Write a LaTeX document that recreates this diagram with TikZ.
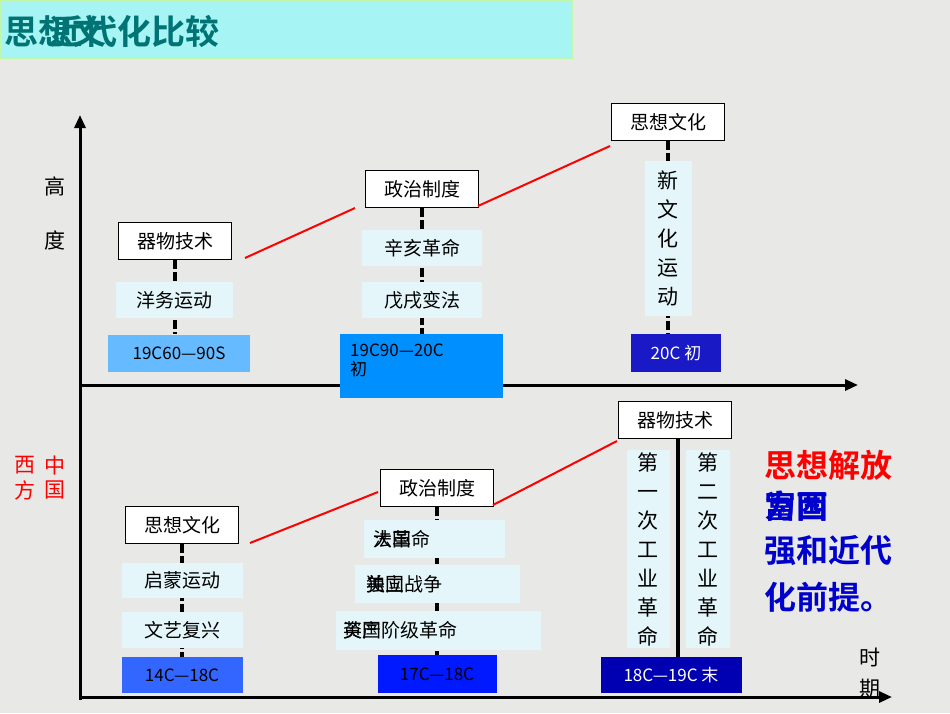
\documentclass[tikz,border=0pt]{standalone}
\usepackage{fontspec}
\setmainfont{Noto Sans CJK SC}
\newfontfamily\cjkb{Noto Sans CJK SC Bold}
\usetikzlibrary{arrows.meta}
\definecolor{bg}{HTML}{E8E8E6}
\definecolor{lab}{HTML}{E4F6FA}
\definecolor{ttl}{HTML}{A6F4F4}
\definecolor{teal}{HTML}{007474}
\tikzset{
 cat/.style={draw=black,line width=1.6pt,fill=white,minimum width=113pt,minimum height=37pt,font=\fontsize{19}{19}\selectfont,inner sep=0pt},
 lbl/.style={fill=lab,font=\fontsize{19}{19}\selectfont,inner sep=0pt},
 per/.style={font=\fontsize{17}{19}\selectfont,inner sep=0pt},
 red/.style={draw=red,line width=2pt},
 stem/.style={draw=black,line width=3.5pt,dash pattern=on 9pt off 3pt},
 axis/.style={draw=black,line width=3pt,-{Triangle[length=13pt,width=11pt]}},
 big/.style={font=\cjkb\fontsize{32}{34}\selectfont,inner sep=0pt,anchor=west},
 ov/.style={font=\fontsize{19}{19}\selectfont,anchor=west,inner sep=0pt}
}
\begin{document}
\begin{tikzpicture}[x=1pt,y=-1pt]
\fill[bg] (0,0) rectangle (950,713);
\useasboundingbox (0,0) rectangle (950,713);
% title
\node[fill=ttl,draw=ttl!70!yellow,minimum width=572pt,minimum height=58pt,anchor=north west,inner sep=0pt] (title) at (0,0) {};
\node[font=\cjkb\fontsize{34}{34}\selectfont,text=teal,anchor=east,inner sep=0pt] (t1) at (220,31) {近代化比较};
\node[font=\cjkb\fontsize{34}{34}\selectfont,text=teal,anchor=west,inner sep=0pt] (t2) at (4,31) {思想文};
% axes
\coordinate (o) at (80,700);
\coordinate (ytop) at (80,115);
\coordinate (u0) at (80,385); \coordinate (u1) at (858,385);
\coordinate (l0) at (80,697); \coordinate (l1) at (892,697);
\draw[axis] (o) -- (ytop);
\draw[axis] (u0) -- (u1);
\draw[axis] (l0) -- (l1);
\node[font=\fontsize{21}{21}\selectfont] (g1) at (55,186) {高};
\node[font=\fontsize{21}{21}\selectfont] (g2) at (55,240) {度};
\node[font=\fontsize{21}{21}\selectfont,text=red] (w1) at (25,465) {西};
\node[font=\fontsize{21}{21}\selectfont,text=red] (w2) at (25,490) {方};
\node[font=\fontsize{21}{21}\selectfont,text=red] (c1) at (55,465) {中};
\node[font=\fontsize{21}{21}\selectfont,text=red] (c2) at (55,490) {国};
\node[font=\fontsize{21}{21}\selectfont] (s1) at (870,657) {时};
\node[font=\fontsize{21}{21}\selectfont] (s2) at (870,689) {期};
% ===== upper: China
\node[per,fill=blue!45!cyan!60,minimum width=142pt,minimum height=37pt] (p1) at (179,353) {19C60—90S};
\node[cat] (k1) at (175,241) {器物技术};
\draw[stem] (k1.south) -- (k1.south |- p1.north);
\node[lbl,minimum width=117pt,minimum height=36pt] (a1) at (174,300) {洋务运动};

\node[fill=blue!30!cyan!80!blue,minimum width=163pt,minimum height=64pt,inner sep=0pt] (p2) at (421,366) {};
\node[per,align=left,anchor=north west] (p2t) at (350,344) {19C90—20C\\初};
\node[cat] (k2) at (422,189) {政治制度};
\draw[stem] (k2.south) -- (k2.south |- p2.north);
\node[lbl,minimum width=120pt,minimum height=36pt] (b1) at (422,248) {辛亥革命};
\node[lbl,minimum width=120pt,minimum height=36pt] (b2) at (422,300) {戊戌变法};

\node[per,fill=blue!75!black!90,text=white,minimum width=90pt,minimum height=38pt] (p3) at (676,353) {20C 初};
\node[cat] (k3) at (668,122) {思想文化};
\draw[stem] (k3.south) -- (k3.south |- p3.north);
\node[lbl,minimum width=47pt,minimum height=155pt,align=center,font=\fontsize{21}{29}\selectfont] (n1) at (668,238) {新\\文\\化\\运\\动};

\draw[red] (245,258) -- (355,208);
\draw[red] (478,206) -- (610,146);
% ===== lower: West
\node[per,fill=blue!75!cyan!80,minimum width=121pt,minimum height=36pt] (q1) at (182,675) {14C—18C};
\node[cat] (m1) at (182,525) {思想文化};
\draw[stem] (m1.south) -- (m1.south |- q1.north);
\node[lbl,minimum width=121pt,minimum height=35pt] (d1) at (182,580) {启蒙运动};
\node[lbl,minimum width=121pt,minimum height=36pt] (d2) at (182,630) {文艺复兴};

\node[per,fill=blue!90!cyan,minimum width=119pt,minimum height=38pt] (q2) at (437,674) {17C—18C};
\node[cat] (m2) at (437,488) {政治制度};
\draw[stem] (m2.south) -- (m2.south |- q2.north);
\node[lbl,minimum width=141pt,minimum height=38pt] (e1) at (434,539) {};
\node[ov] (e1a) at (373,539) {大革命};
\node[ov] (e1b) at (373,539) {法国};
\node[lbl,minimum width=165pt,minimum height=38pt] (e2) at (437,584) {};
\node[ov] (e2a) at (366,584) {独立战争};
\node[ov] (e2b) at (366,584) {美国};
\node[lbl,minimum width=205pt,minimum height=39pt] (e3) at (438,630) {};
\node[ov] (e3a) at (343,630) {资产阶级革命};
\node[ov] (e3b) at (343,630) {英国};

\node[per,fill=blue!70!black,text=white,minimum width=141pt,minimum height=36pt] (q3) at (671,675) {18C—19C 末};
\node[cat] (m3) at (675,420) {器物技术};
\coordinate (v0) at (678,439); \coordinate (v1) at (678,657);
\draw[draw=black,line width=3.5pt] (v0) -- (v1);
\node[lbl,minimum width=43pt,minimum height=198pt,align=center,font=\fontsize{21}{29}\selectfont] (f1) at (648,549) {第\\一\\次\\工\\业\\革\\命};
\node[lbl,minimum width=44pt,minimum height=198pt,align=center,font=\fontsize{21}{29}\selectfont] (f2) at (708,549) {第\\二\\次\\工\\业\\革\\命};

\draw[red] (250,543) -- (378,492);
\draw[red] (493,505) -- (617,441);
% right text
\node[big,text=red] (r1) at (764,465) {思想解放};
\node[big,text=blue!80!black] (r2a) at (764,506) {富国};
\node[big,text=blue!80!black] (r2b) at (764,506) {为西};
\node[big,text=blue!80!black] (r3) at (764,551) {强和近代};
\node[big,text=blue!80!black] (r4) at (764,597) {化前提。};
\end{tikzpicture}
\end{document}
